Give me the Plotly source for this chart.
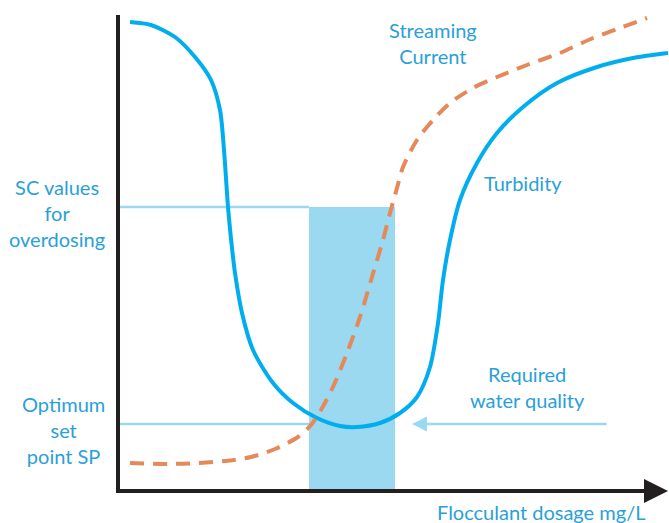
import plotly.graph_objects as go

# Schematic units: x = flocculant dosage, y = signal level
turb_x = [1.2, 3.3, 5.7, 7.7, 9.3, 10.2, 10.6, 11.0, 11.4, 11.7, 12.4, 13.5, 15.5, 17.5, 19.9,
          22.2, 23.9, 26.2, 28.2, 29.9, 31.2, 32.0, 32.5, 33.2, 34.2, 35.9, 37.9, 40.5, 43.9,
          47.9, 51.5, 55.0]
turb_y = [46.9, 46.6, 45.4, 43.4, 41.1, 38.1, 34.1, 28.4, 24.3, 21.8, 17.8, 14.1, 10.8, 8.8, 7.3,
          6.5, 6.4, 6.8, 7.8, 9.4, 12.4, 16.8, 21.1, 25.1, 29.1, 32.8, 35.8, 38.4, 40.8,
          42.4, 43.3, 43.8]

sc_x = [1.2, 5.0, 8.0, 10.7, 13.3, 15.7, 18.0, 19.3, 20.3, 21.5, 22.9, 24.2, 25.4, 26.5, 27.2,
        27.9, 28.5, 29.9, 31.5, 33.2, 35.5, 37.9, 40.9, 44.2, 47.5, 50.2, 52.9]
sc_y = [2.8, 2.7, 2.8, 3.0, 3.4, 4.2, 5.4, 6.6, 8.1, 10.4, 13.8, 17.4, 21.4, 25.1, 27.8,
        30.3, 32.4, 35.1, 37.1, 38.8, 40.3, 41.4, 42.6, 43.8, 45.3, 46.3, 47.3]

band_x = [19.1, 27.7]          # optimal dosage band
sc_overdose = 28.4             # SC values for overdosing
sc_setpoint = 6.7              # optimum set point SP
req_quality_from = 49.0        # arrow start for required water quality
req_quality_to = 29.4
x_axis_end = 55.0
y_axis_end = 47.6

TEXT = "#2A9FDA"
BLUE = "#00AEEF"
LIGHT = "#9BD9F1"
ORANGE = "#E5895A"
DARK = "#231F20"
FONT = "Lato"

fig = go.Figure()

fig.add_trace(go.Scatter(x=turb_x, y=turb_y, mode="lines",
                         line=dict(color=BLUE, width=4, shape="spline", smoothing=0.8),
                         hoverinfo="skip", showlegend=False))
fig.add_trace(go.Scatter(x=sc_x, y=sc_y, mode="lines",
                         line=dict(color=ORANGE, width=4, shape="spline", smoothing=0.8,
                                   dash="14px,9px"),
                         hoverinfo="skip", showlegend=False))

shapes = [
    dict(type="rect", x0=band_x[0], x1=band_x[1], y0=0, y1=sc_overdose,
         fillcolor=LIGHT, line=dict(width=0), layer="below"),
    dict(type="line", x0=0, x1=band_x[0], y0=sc_overdose, y1=sc_overdose,
         line=dict(color=LIGHT, width=2.5), layer="below"),
    dict(type="line", x0=0, x1=band_x[0], y0=sc_setpoint, y1=sc_setpoint,
         line=dict(color=LIGHT, width=2.5), layer="below"),
    dict(type="line", x0=0, x1=0, y0=-0.2, y1=y_axis_end,
         line=dict(color=DARK, width=4)),
]
fig.update_layout(shapes=shapes)

ann = [
    # x axis with arrow
    dict(x=x_axis_end, y=0, ax=-0.2, ay=0, xref="x", yref="y", axref="x", ayref="y",
         showarrow=True, arrowhead=2, arrowsize=1.2, arrowwidth=4, arrowcolor=DARK,
         standoff=0, text=""),
    # required water quality arrow
    dict(x=req_quality_to, y=sc_setpoint, ax=req_quality_from, ay=sc_setpoint,
         xref="x", yref="y", axref="x", ayref="y",
         showarrow=True, arrowhead=2, arrowsize=1.2, arrowwidth=2.5, arrowcolor=LIGHT,
         standoff=0, text=""),
]
labels = [
    ("Streaming<br>Current", 31.5, 44.8),
    ("Turbidity", 40.5, 30.8),
    ("SC values<br>for<br>overdosing", -6.1, 27.8),
    ("Optimum<br>set<br>point SP", -5.5, 6.1),
    ("Required<br>water quality", 40.9, 10.4),
    ("Flocculant dosage mg/L", 42.3, -2.1),
]
for t, x, y in labels:
    ann.append(dict(text=t, x=x, y=y, xref="x", yref="y", showarrow=False,
                    xanchor="center", yanchor="middle", align="center",
                    font=dict(family=FONT, size=20, color=TEXT)))
fig.update_layout(annotations=ann)

fig.update_layout(
    width=669, height=523, autosize=False,
    margin=dict(l=0, r=0, t=0, b=0, pad=0),
    paper_bgcolor="white", plot_bgcolor="white",
    xaxis=dict(visible=False, range=[-11.8, 55.1], fixedrange=True),
    yaxis=dict(visible=False, range=[-3.2, 49.1], fixedrange=True),
)

fig.write_html("out.html", post_script="document.body.style.margin='0';",
               config={"displayModeBar": False})
